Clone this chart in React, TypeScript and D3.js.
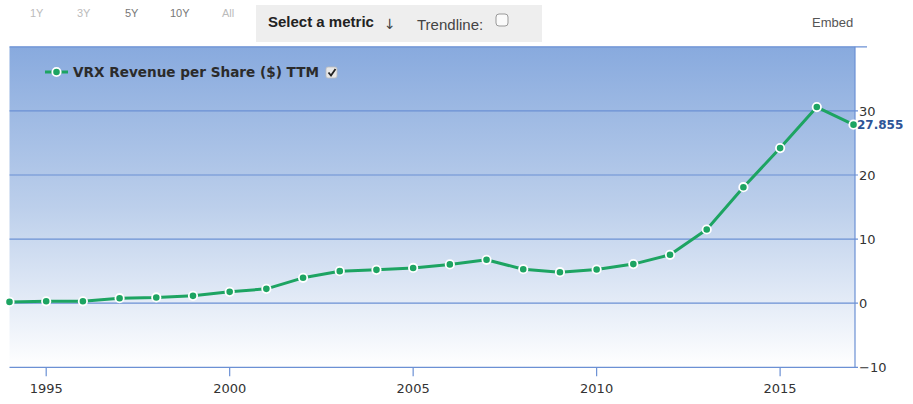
import React from "react";
import * as d3 from "d3";

const years = [1994,1995,1996,1997,1998,1999,2000,2001,2002,2003,2004,2005,2006,2007,2008,2009,2010,2011,2012,2013,2014,2015,2016,2017];
const revenuePerShare = [0.2,0.3,0.3,0.78,0.9,1.15,1.77,2.24,3.96,5.0,5.2,5.5,6.05,6.77,5.3,4.84,5.26,6.1,7.55,11.5,18.1,24.2,30.6,27.855];
const xTicks = [1995,2000,2005,2010,2015];
const yTicks = [-10,0,10,20,30,40];
const yLabelTicks = [-10,0,10,20,30];
const rangeButtons = ["1Y","3Y","5Y","10Y","All"];
const seriesName = "VRX Revenue per Share ($) TTM";

export default function App() {
  const W = 913, H = 404;
  const left = 9.5, right = 855, top = 46.8, bottom = 367.3;
  const x = d3.scaleLinear().domain([1994, 2017]).range([left, 853.5]);
  const y = d3.scaleLinear().domain([-10, 40]).range([bottom, top]);
  const data = years.map((yr, i) => ({ yr, v: revenuePerShare[i] }));
  const line = d3.line<{ yr: number; v: number }>()
    .x(d => x(d.yr))
    .y(d => y(d.v))
    .curve(d3.curveLinear);
  const green = "#1da462";
  const grid = "#6b90d4";
  const btnX = [30, 77, 125, 170, 222];
  const btnCol = ["#bbbbbb", "#bbbbbb", "#777777", "#777777", "#bbbbbb"];
  const last = data[data.length - 1];
  return (
    <svg width={W} height={H} style={{ position: "absolute", left: 0, top: 0, background: "#fff" }}>
      <defs>
        <linearGradient id="bg" x1="0" y1="0" x2="0" y2="1">
          <stop offset="0" stopColor="#88aade" />
          <stop offset="0.5" stopColor="#bccfeb" />
          <stop offset="1" stopColor="#ffffff" />
        </linearGradient>
      </defs>
      {/* toolbar */}
      {rangeButtons.map((b, i) => (
        <text key={b} x={btnX[i]} y={17} fontFamily="Liberation Sans Narrow, Liberation Sans, Arial" fontSize={11} fill={btnCol[i]}>{b}</text>
      ))}
      <rect x={256} y={5} width={286} height={37} fill="#eeeeee" />
      <text x={268} y={27} fontFamily="Liberation Sans Narrow, Liberation Sans, Arial" fontSize={15} fontWeight="bold" fill="#222">Select a metric</text>
      <text x={384} y={29} fontFamily="DejaVu Sans" fontSize={14} fill="#444">↓</text>
      <text x={417} y={30} fontFamily="Liberation Sans Narrow, Liberation Sans, Arial" fontSize={15} fill="#444">Trendline:</text>
      <rect x={496} y={14} width={12} height={12} rx={3} fill="#fafafa" stroke="#999" strokeWidth={1} />
      <text x={812} y={27} fontFamily="Liberation Sans Narrow, Liberation Sans, Arial" fontSize={13} fill="#555">Embed</text>

      {/* plot background */}
      <rect x={left} y={top} width={right - left} height={bottom - top} fill="url(#bg)" />
      {yTicks.map(t => (
        <line key={t} x1={left} x2={t === 40 ? 867 : 858} y1={y(t)} y2={y(t)} stroke={grid} strokeWidth={1.2} />
      ))}
      <line x1={right} x2={right} y1={top} y2={bottom} stroke={grid} strokeWidth={1.2} />
      {xTicks.map(t => (
        <g key={t}>
          <line x1={x(t)} x2={x(t)} y1={bottom} y2={bottom + 9} stroke={grid} strokeWidth={1.2} />
          <text x={x(t)} y={393} textAnchor="middle" fontFamily="DejaVu Sans" fontSize={13} fill="#333">{t}</text>
        </g>
      ))}
      {yLabelTicks.map(t => (
        <text key={t} x={859} y={y(t) + 5} fontFamily="DejaVu Sans" fontSize={13} fill="#333">{t < 0 ? "−" + Math.abs(t) : t}</text>
      ))}

      {/* series */}
      <path d={line(data) || ""} fill="none" stroke={green} strokeWidth={3} strokeLinejoin="round" />
      {data.map(d => (
        <circle key={d.yr} cx={x(d.yr)} cy={y(d.v)} r={4.2} fill={green} stroke="#fff" strokeWidth={1.8} />
      ))}
      <text x={857} y={y(last.v) + 4} fontFamily="DejaVu Sans" fontSize={12} fontWeight="bold" fill="#2d5597">{last.v}</text>

      {/* legend */}
      <line x1={45} x2={68} y1={72} y2={72} stroke={green} strokeWidth={3} />
      <circle cx={56.5} cy={72} r={4.2} fill={green} stroke="#fff" strokeWidth={1.8} />
      <text x={73} y={77} fontFamily="DejaVu Sans" fontSize={13.6} fontWeight="bold" fill="#2b2b2b">{seriesName}</text>
      <rect x={326} y={67} width={11} height={11} rx={2} fill="#e8e8e8" stroke="#bbb" strokeWidth={0.8} />
      <path d="M328.5 72.5 L331 75.5 L335.5 69" fill="none" stroke="#222" strokeWidth={1.8} />
    </svg>
  );
}
